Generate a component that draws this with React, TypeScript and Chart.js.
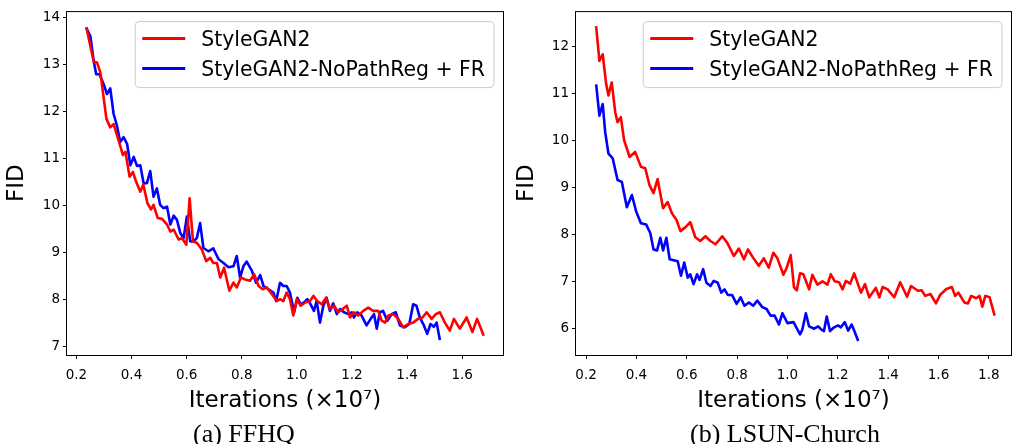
import React, { useEffect, useRef } from "react";
import { Chart, registerables } from "chart.js";

Chart.register(...registerables);

const FONT = "'DejaVu Sans', sans-serif";

const seriesLabels = ["StyleGAN2", "StyleGAN2-NoPathReg + FR"];
const seriesColors = ["#ff0000", "#0000ff"];

const xTicksFFHQ = [0.2, 0.4, 0.6, 0.8, 1.0, 1.2, 1.4, 1.6];
const xTicksChurch = [0.2, 0.4, 0.6, 0.8, 1.0, 1.2, 1.4, 1.6, 1.8];
const yTicksFFHQ = [7, 8, 9, 10, 11, 12, 13, 14];
const yTicksChurch = [6, 7, 8, 9, 10, 11, 12];

const xAxisTitle = "Iterations (×10⁷)";
const yAxisTitle = "FID";
const captions = ["(a) FFHQ", "(b) LSUN-Church"];

// FFHQ – StyleGAN2 (red)
const ffhqRedX = [
  0.236, 0.263, 0.275, 0.287, 0.309, 0.323, 0.335, 0.357, 0.369, 0.378,
  0.393, 0.405, 0.417, 0.432, 0.443, 0.458, 0.471, 0.48, 0.495, 0.511,
  0.529, 0.541, 0.553, 0.571, 0.583, 0.599, 0.611, 0.623, 0.637, 0.655,
  0.671, 0.686, 0.697, 0.71, 0.722, 0.736, 0.755, 0.77, 0.782, 0.797,
  0.812, 0.83, 0.845, 0.861, 0.876, 0.891, 0.909, 0.927, 0.939, 0.951,
  0.963, 0.975, 0.987, 1.0, 1.014, 1.03, 1.048, 1.06, 1.074, 1.09,
  1.106, 1.12, 1.135, 1.15, 1.166, 1.181, 1.193, 1.207, 1.223, 1.241,
  1.259, 1.277, 1.295, 1.308, 1.32, 1.332, 1.35, 1.368, 1.386, 1.404,
  1.422, 1.44, 1.456, 1.471, 1.489, 1.504, 1.519, 1.537, 1.555, 1.57,
  1.591, 1.616, 1.637, 1.654, 1.678,
];
const ffhqRedY = [
  13.8, 13.06, 13.04, 12.83, 11.84, 11.66, 11.73, 11.31, 11.07, 11.14,
  10.61, 10.71, 10.5, 10.29, 10.44, 10.04, 9.91, 10.01, 9.73, 9.71,
  9.59, 9.44, 9.48, 9.27, 9.3, 9.16, 10.15, 9.23, 9.2, 9.06,
  8.81, 8.88, 8.77, 8.77, 8.46, 8.67, 8.18, 8.35, 8.25, 8.46,
  8.42, 8.39, 8.53, 8.28, 8.21, 8.25, 8.11, 7.96, 8.0, 7.96,
  8.14, 8.0, 7.65, 8.0, 7.86, 7.93, 7.96, 8.07, 7.96, 7.89,
  8.03, 7.79, 7.86, 7.72, 7.79, 7.86, 7.61, 7.72, 7.65, 7.75,
  7.82, 7.75, 7.75, 7.54, 7.5, 7.65, 7.68, 7.58, 7.4, 7.47,
  7.5, 7.58, 7.61, 7.72, 7.58, 7.68, 7.72, 7.5, 7.33, 7.58,
  7.37, 7.61, 7.3, 7.58, 7.22,
];

// FFHQ – StyleGAN2-NoPathReg + FR (blue)
const ffhqBlueX = [
  0.236, 0.251, 0.263, 0.272, 0.284, 0.299, 0.311, 0.323, 0.335, 0.347,
  0.359, 0.371, 0.384, 0.396, 0.408, 0.42, 0.432, 0.444, 0.456, 0.468,
  0.48, 0.492, 0.504, 0.516, 0.529, 0.541, 0.553, 0.565, 0.577, 0.589,
  0.601, 0.613, 0.625, 0.637, 0.649, 0.661, 0.679, 0.697, 0.716, 0.734,
  0.752, 0.77, 0.782, 0.794, 0.806, 0.818, 0.837, 0.852, 0.867, 0.879,
  0.897, 0.915, 0.925, 0.939, 0.951, 0.963, 0.975, 0.99, 1.002, 1.014,
  1.026, 1.038, 1.05, 1.062, 1.072, 1.084, 1.096, 1.108, 1.12, 1.132,
  1.145, 1.157, 1.171, 1.187, 1.199, 1.207, 1.219, 1.235, 1.253, 1.268,
  1.28, 1.29, 1.301, 1.313, 1.328, 1.344, 1.359, 1.374, 1.392, 1.408,
  1.422, 1.434, 1.446, 1.461, 1.473, 1.485, 1.497, 1.507, 1.519,
];
const ffhqBlueY = [
  13.78, 13.6, 13.07, 12.79, 12.79, 12.58, 12.37, 12.49, 11.95, 11.7,
  11.35, 11.45, 11.31, 10.85, 11.03, 10.84, 10.85, 10.47, 10.47, 10.73,
  10.18, 10.36, 10.01, 9.94, 9.97, 9.59, 9.78, 9.69, 9.41, 9.3,
  9.76, 9.23, 9.23, 9.3, 9.62, 9.09, 9.02, 9.08, 8.85, 8.77,
  8.68, 8.7, 8.92, 8.46, 8.7, 8.8, 8.6, 8.35, 8.51, 8.28,
  8.21, 8.14, 7.96, 8.35, 8.28, 8.28, 8.14, 7.72, 8.03, 7.89,
  7.93, 8.0, 7.89, 7.75, 7.96, 7.5, 7.86, 8.03, 7.75, 7.91,
  7.68, 7.79, 7.72, 7.68, 7.72, 7.61, 7.72, 7.65, 7.44, 7.58,
  7.68, 7.37, 7.72, 7.75, 7.54, 7.68, 7.72, 7.44, 7.4, 7.47,
  7.89, 7.86, 7.61, 7.44, 7.26, 7.47, 7.41, 7.5, 7.13,
];

// LSUN-Church – StyleGAN2 (red)
const churchRedX = [
  0.24, 0.253, 0.266, 0.28, 0.289, 0.302, 0.316, 0.325, 0.338, 0.351,
  0.373, 0.395, 0.418, 0.435, 0.452, 0.468, 0.484, 0.506, 0.524, 0.541,
  0.559, 0.575, 0.594, 0.614, 0.634, 0.654, 0.674, 0.694, 0.714, 0.741,
  0.761, 0.787, 0.807, 0.827, 0.843, 0.864, 0.886, 0.906, 0.926, 0.944,
  0.96, 0.984, 0.997, 1.013, 1.026, 1.037, 1.05, 1.063, 1.086, 1.099,
  1.119, 1.139, 1.159, 1.172, 1.188, 1.205, 1.219, 1.232, 1.249, 1.265,
  1.292, 1.308, 1.325, 1.351, 1.365, 1.378, 1.398, 1.424, 1.448, 1.475,
  1.491, 1.518, 1.533, 1.547, 1.568, 1.59, 1.606, 1.63, 1.653, 1.666,
  1.679, 1.703, 1.717, 1.73, 1.75, 1.763, 1.774, 1.786, 1.803, 1.823,
];
const churchRedY = [
  12.44, 11.7, 11.84, 11.2, 10.96, 11.24, 10.6, 10.39, 10.5, 10.01,
  9.65, 9.76, 9.44, 9.41, 9.05, 8.88, 9.18, 8.56, 8.69, 8.45,
  8.31, 8.07, 8.15, 8.26, 7.94, 7.86, 7.96, 7.86, 7.79, 7.96,
  7.82, 7.54, 7.7, 7.47, 7.68, 7.5, 7.33, 7.49, 7.29, 7.61,
  7.49, 7.14, 7.29, 7.56, 6.87, 6.81, 7.17, 7.15, 6.83, 7.14,
  6.93, 7.0, 6.93, 7.15, 7.0, 6.98, 6.83, 7.01, 6.95, 7.17,
  6.76, 6.94, 6.66, 6.86, 6.66, 6.88, 6.83, 6.66, 6.98, 6.67,
  6.9, 6.8, 6.81, 6.69, 6.73, 6.53, 6.71, 6.83, 6.88, 6.69,
  6.76, 6.55, 6.53, 6.69, 6.64, 6.69, 6.46, 6.69, 6.66, 6.27,
];

// LSUN-Church – StyleGAN2-NoPathReg + FR (blue)
const churchBlueX = [
  0.24, 0.253, 0.266, 0.276, 0.289, 0.306, 0.325, 0.342, 0.362, 0.382,
  0.399, 0.418, 0.439, 0.455, 0.468, 0.482, 0.495, 0.506, 0.519, 0.532,
  0.548, 0.564, 0.577, 0.59, 0.604, 0.614, 0.627, 0.641, 0.651, 0.665,
  0.678, 0.694, 0.707, 0.723, 0.737, 0.75, 0.763, 0.78, 0.798, 0.814,
  0.829, 0.847, 0.864, 0.88, 0.9, 0.917, 0.933, 0.949, 0.966, 0.98,
  1.0, 1.024, 1.05, 1.059, 1.073, 1.086, 1.106, 1.122, 1.135, 1.145,
  1.156, 1.169, 1.185, 1.201, 1.212, 1.228, 1.241, 1.255, 1.265, 1.281,
];
const churchBlueY = [
  11.2, 10.53, 10.78, 10.18, 9.72, 9.62, 9.16, 9.12, 8.58, 8.84,
  8.49, 8.24, 8.21, 8.03, 7.68, 7.66, 7.93, 7.66, 7.93, 7.47,
  7.45, 7.43, 7.12, 7.4, 7.08, 7.15, 6.94, 7.15, 7.03, 7.26,
  6.97, 6.9, 7.01, 6.97, 6.76, 6.83, 6.71, 6.71, 6.52, 6.66,
  6.48, 6.55, 6.48, 6.59, 6.45, 6.41, 6.27, 6.27, 6.08, 6.32,
  6.11, 6.13, 5.87, 5.97, 6.32, 6.04, 5.99, 6.04, 5.97, 5.94,
  6.25, 5.94, 6.02, 6.06, 6.02, 6.13, 5.95, 6.08, 5.95, 5.73,
];

const decorPlugin = {
  id: "frameAndLegend",
  afterDatasetsDraw(chart: any) {
    const { ctx, chartArea } = chart;
    const { left, top, right, bottom } = chartArea;
    ctx.save();
    // frame
    ctx.strokeStyle = "#000";
    ctx.lineWidth = 1;
    ctx.strokeRect(left - 0.5, top + 0.5, right - left + 1, bottom - top);

    // legend
    ctx.font = `20.4px ${FONT}`;
    const labels: string[] = chart.data.datasets.map((d: any) => d.label);
    const textW = Math.max(...labels.map((l) => ctx.measureText(l).width));
    const padL = 7;
    const lineLen = 43;
    const gap = 16;
    const padR = 9;
    const w = padL + lineLen + gap + textW + padR;
    const h = 66;
    const x1 = right - 9;
    const x0 = x1 - w;
    const y0 = top + 10.5;
    const r = 4;
    ctx.beginPath();
    ctx.moveTo(x0 + r, y0);
    ctx.lineTo(x1 - r, y0);
    ctx.quadraticCurveTo(x1, y0, x1, y0 + r);
    ctx.lineTo(x1, y0 + h - r);
    ctx.quadraticCurveTo(x1, y0 + h, x1 - r, y0 + h);
    ctx.lineTo(x0 + r, y0 + h);
    ctx.quadraticCurveTo(x0, y0 + h, x0, y0 + h - r);
    ctx.lineTo(x0, y0 + r);
    ctx.quadraticCurveTo(x0, y0, x0 + r, y0);
    ctx.closePath();
    ctx.fillStyle = "rgba(255,255,255,0.8)";
    ctx.fill();
    ctx.strokeStyle = "#cccccc";
    ctx.lineWidth = 1;
    ctx.stroke();

    chart.data.datasets.forEach((d: any, i: number) => {
      const rowY = y0 + 17 + i * 30;
      ctx.beginPath();
      ctx.strokeStyle = d.borderColor;
      ctx.lineWidth = 3;
      ctx.moveTo(x0 + padL, rowY);
      ctx.lineTo(x0 + padL + lineLen, rowY);
      ctx.stroke();
      ctx.fillStyle = "#000";
      ctx.textBaseline = "alphabetic";
      ctx.textAlign = "left";
      ctx.fillText(d.label, x0 + padL + lineLen + gap, rowY + 7.4);
    });
    ctx.restore();
  },
};

type PanelProps = {
  left: number;
  width: number;
  height: number;
  redX: number[];
  redY: number[];
  blueX: number[];
  blueY: number[];
  xMin: number;
  xMax: number;
  yMin: number;
  yMax: number;
  xTicks: number[];
  yTicks: number[];
  yAxisWidth: number;
  padRight: number;
  plotTop: number;
  plotBottom: number;
};

function Panel(p: PanelProps) {
  const ref = useRef<HTMLCanvasElement>(null);
  useEffect(() => {
    const canvas = ref.current as HTMLCanvasElement;
    const toPts = (xs: number[], ys: number[]) =>
      xs.map((x, i) => ({ x, y: ys[i] }));
    const chart = new Chart(canvas, {
      type: "line",
      data: {
        datasets: [
          {
            label: seriesLabels[0],
            data: toPts(p.redX, p.redY),
            borderColor: seriesColors[0],
            backgroundColor: seriesColors[0],
            borderWidth: 2.6,
            pointRadius: 0,
            tension: 0,
            fill: false,
            borderJoinStyle: "round",
          },
          {
            label: seriesLabels[1],
            data: toPts(p.blueX, p.blueY),
            borderColor: seriesColors[1],
            backgroundColor: seriesColors[1],
            borderWidth: 2.6,
            pointRadius: 0,
            tension: 0,
            fill: false,
            borderJoinStyle: "round",
          },
        ],
      },
      options: {
        responsive: false,
        animation: false,
        devicePixelRatio: 1,
        events: [],
        layout: {
          padding: { top: p.plotTop, right: p.padRight, left: 0, bottom: 0 },
        },
        plugins: {
          legend: { display: false },
          tooltip: { enabled: false },
        },
        scales: {
          x: {
            type: "linear",
            min: p.xMin,
            max: p.xMax,
            afterBuildTicks: (s: any) => {
              s.ticks = p.xTicks.map((v) => ({ value: v }));
            },
            afterFit: (s: any) => {
              s.height = p.height - p.plotBottom;
            },
            grid: {
              drawOnChartArea: false,
              drawTicks: true,
              tickLength: 4,
              tickColor: "#000",
              tickWidth: 1,
            },
            border: { display: false },
            ticks: {
              color: "#000",
              font: { family: FONT, size: 13.5 },
              padding: 8,
              maxRotation: 0,
              autoSkip: false,
              callback: (v: any) => Number(v).toFixed(1),
            },
            title: {
              display: true,
              text: xAxisTitle,
              color: "#000",
              font: { family: FONT, size: 23 },
              padding: { top: 0, bottom: 8.8 },
            },
          },
          y: {
            type: "linear",
            min: p.yMin,
            max: p.yMax,
            afterBuildTicks: (s: any) => {
              s.ticks = p.yTicks.map((v) => ({ value: v }));
            },
            afterFit: (s: any) => {
              s.width = p.yAxisWidth;
            },
            grid: {
              drawOnChartArea: false,
              drawTicks: true,
              tickLength: 4,
              tickColor: "#000",
              tickWidth: 1,
            },
            border: { display: false },
            ticks: {
              color: "#000",
              font: { family: FONT, size: 13.5 },
              padding: 3,
              autoSkip: false,
              callback: (v: any) => String(Number(v)),
            },
            title: {
              display: true,
              text: yAxisTitle,
              color: "#000",
              font: { family: FONT, size: 23 },
              padding: { top: 3.5, bottom: 0 },
            },
          },
        },
      },
      plugins: [decorPlugin],
    } as any);
    return () => chart.destroy();
  }, []);
  return (
    <canvas
      ref={ref}
      width={p.width}
      height={p.height}
      style={{
        position: "absolute",
        left: p.left,
        top: 0,
        width: p.width,
        height: p.height,
      }}
    />
  );
}

const captionStyle: React.CSSProperties = {
  position: "absolute",
  top: 421,
  fontFamily: "'Liberation Serif', 'Times New Roman', serif",
  fontSize: 26,
  lineHeight: "26px",
  whiteSpace: "nowrap",
  color: "#000",
};

export default function App() {
  return (
    <div
      style={{
        position: "absolute",
        left: 0,
        top: 0,
        width: 1013,
        height: 444,
        background: "#fff",
        overflow: "hidden",
      }}
    >
      <Panel
        left={0}
        width={510}
        height={424}
        redX={ffhqRedX}
        redY={ffhqRedY}
        blueX={ffhqBlueX}
        blueY={ffhqBlueY}
        xMin={0.166}
        xMax={1.748}
        yMin={6.81}
        yMax={14.137}
        xTicks={xTicksFFHQ}
        yTicks={yTicksFFHQ}
        yAxisWidth={67}
        padRight={7}
        plotTop={8}
        plotBottom={355}
      />
      <Panel
        left={510}
        width={503}
        height={424}
        redX={churchRedX}
        redY={churchRedY}
        blueX={churchBlueX}
        blueY={churchBlueY}
        xMin={0.16}
        xMax={1.888}
        yMin={5.43}
        yMax={12.76}
        xTicks={xTicksChurch}
        yTicks={yTicksChurch}
        yAxisWidth={66}
        padRight={2}
        plotTop={8}
        plotBottom={355}
      />
      <div style={{ ...captionStyle, left: 193 }}>{captions[0]}</div>
      <div style={{ ...captionStyle, left: 690 }}>{captions[1]}</div>
    </div>
  );
}
